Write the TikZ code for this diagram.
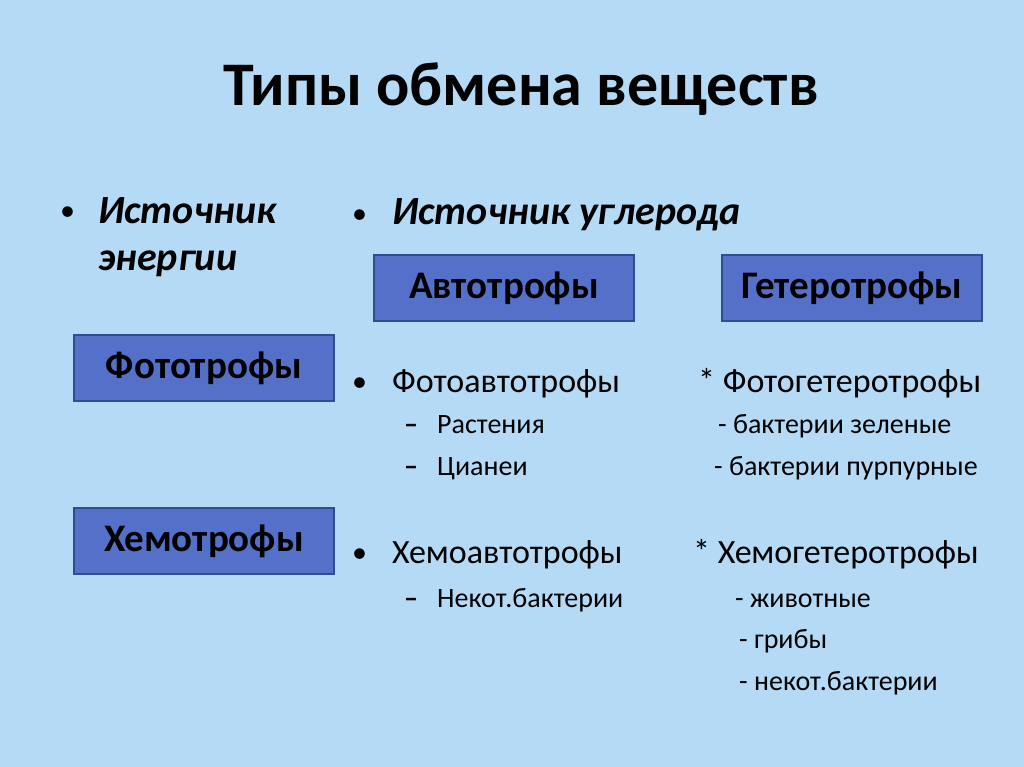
\documentclass[tikz,border=0pt]{standalone}
\usepackage{fontspec}
\setmainfont{Carlito}
\definecolor{fondo}{HTML}{B4DAF6}
\definecolor{boxfill}{HTML}{5570C9}
\definecolor{boxline}{HTML}{2F4C8E}
\usetikzlibrary{positioning}

\begin{document}
\begin{tikzpicture}[x=1pt,y=-1pt,
	tipo/.style={draw=boxline,line width=1.5pt,fill=boxfill,minimum width=260pt,minimum height=66pt,font=\fontsize{39}{44}\selectfont\bfseries},
	head/.style={anchor=base west,inner sep=0pt,font=\fontsize{40}{46}\selectfont\bfseries\itshape},
	item/.style={anchor=base west,inner sep=0pt,font=\fontsize{34}{40}\selectfont},
	sub/.style={anchor=base west,inner sep=0pt,font=\fontsize{28}{34}\selectfont},
	punto/.style={anchor=base west,inner sep=0pt,font=\fontsize{30}{34}\selectfont}]
	\fill [fondo] (0,0) rectangle (1024,767);
	\useasboundingbox (0,0) rectangle (1024,767);
	% title
	\node [inner sep=0pt,anchor=base,font=\fontsize{62}{68}\selectfont\bfseries] (titulo) at (521,106) {Типы обмена веществ};
	% left column
	\node [punto] (b1) at (60,221) {•};
	\node [head] (energia1) at (98,223) {Источник};
	\node [head] (energia2) at (98,270) {энергии};
	\node [tipo] (foto) at (204,368) {Фототрофы};
	\node [tipo] (hemo) at (204,541) {Хемотрофы};
	% carbon source
	\node [punto] (b2) at (352,223) {•};
	\node [head] (uglerod) at (392,225) {Источник углерода};
	\node [tipo] (auto) at (504,288) {Автотрофы};
	\node [tipo] (getero) at (852,288) {Гетеротрофы};
	% autotrophs
	\node [punto] (b3) at (352,391) {•};
	\node [item] (fotoauto) at (392,392) {Фотоавтотрофы};
	\node [sub] (d1) at (404,433) {\textbf{–}};
	\node [sub] (rast) at (437,433) {Растения};
	\node [sub] (d2) at (404,475) {\textbf{–}};
	\node [sub] (cian) at (437,475) {Цианеи};
	\node [punto] (b4) at (352,562) {•};
	\node [item] (hemoauto) at (392,563) {Хемоавтотрофы};
	\node [sub] (d3) at (404,607) {\textbf{–}};
	\node [sub] (nekot1) at (437,607) {Некот.бактерии};
	% heterotrophs
	\node [item] (fotogetero) at (698,392) {* Фотогетеротрофы};
	\node [sub] (zel) at (718,433) {- бактерии зеленые};
	\node [sub] (purp) at (714,475) {- бактерии пурпурные};
	\node [item] (hemogetero) at (693,563) {* Хемогетеротрофы};
	\node [sub] (zhiv) at (735,607) {- животные};
	\node [sub] (grib) at (739,648) {- грибы};
	\node [sub] (nekot2) at (739,690) {- некот.бактерии};
\end{tikzpicture}
\end{document}
